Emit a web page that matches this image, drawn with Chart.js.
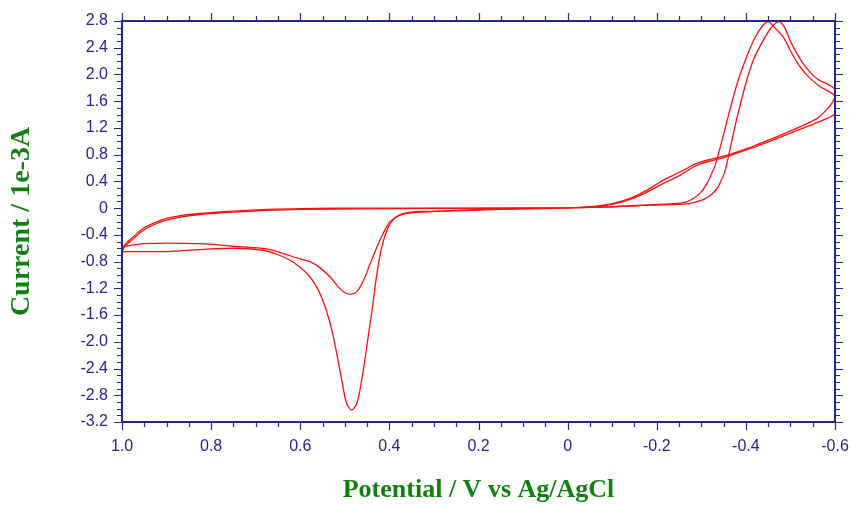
<!DOCTYPE html>
<html>
<head>
<meta charset="utf-8">
<title>Cyclic voltammogram</title>
<script src="https://cdn.jsdelivr.net/npm/chart.js@4/dist/chart.umd.min.js"></script>
<style>
  html, body { margin: 0; padding: 0; background: #fff; }
  #cv { display: block; }
</style>
</head>
<body>
<canvas id="cv" width="852" height="506"></canvas>
<script>
// potential in V vs Ag/AgCl, current in 1e-3 A, listed in sweep order
var cycle1Potential = [
  1.0, 0.99, 0.975, 0.952, 0.922, 0.90, 0.862, 0.825, 0.75, 0.675, 0.60, 0.45, 0.30, 0.15, 0.0,
  -0.10, -0.185, -0.245, -0.265, -0.282, -0.297, -0.312, -0.322, -0.331, -0.346, -0.364, -0.383,
  -0.402, -0.421, -0.439, -0.450, -0.462, -0.484, -0.499, -0.514, -0.537, -0.566, -0.60,
  -0.593, -0.581, -0.559, -0.522, -0.477, -0.432, -0.402, -0.357, -0.327, -0.29, -0.252, -0.215,
  -0.178, -0.14, -0.103, -0.065, -0.028, 0.05, 0.15, 0.25, 0.30, 0.339, 0.376, 0.399, 0.414,
  0.428, 0.443, 0.458, 0.473, 0.488, 0.503, 0.518, 0.533, 0.556, 0.578, 0.60, 0.638, 0.675,
  0.75, 0.83, 0.95, 1.0
];
var cycle1Current = [
  -0.61, -0.52, -0.43, -0.30, -0.205, -0.155, -0.105, -0.08, -0.045, -0.02, -0.006, 0.0, 0.0, 0.0, 0.005,
  0.02, 0.05, 0.07, 0.09, 0.145, 0.22, 0.36, 0.50, 0.64, 1.0, 1.47, 1.92,
  2.27, 2.56, 2.74, 2.79, 2.72, 2.56, 2.37, 2.19, 1.99, 1.82, 1.68,
  1.57, 1.47, 1.34, 1.22, 1.09, 0.97, 0.89, 0.79, 0.74, 0.67, 0.54, 0.42,
  0.27, 0.145, 0.07, 0.03, 0.01, 0.0, -0.012, -0.035, -0.05, -0.065, -0.105, -0.205, -0.38,
  -0.58, -0.83, -1.08, -1.25, -1.29, -1.25, -1.15, -1.03, -0.89, -0.80, -0.76, -0.68, -0.61,
  -0.57, -0.53, -0.53, -0.58
];
var cycle2Potential = [
  1.0, 0.99, 0.975, 0.952, 0.922, 0.90, 0.862, 0.825, 0.75, 0.675, 0.60, 0.45, 0.30, 0.15, 0.0,
  -0.10, -0.185, -0.26, -0.28, -0.305, -0.32, -0.335, -0.345, -0.353, -0.364, -0.379, -0.398,
  -0.417, -0.439, -0.458, -0.475, -0.488, -0.499, -0.514, -0.533, -0.559, -0.60, -0.60,
  -0.574, -0.537, -0.499, -0.462, -0.417, -0.357, -0.29, -0.252, -0.215, -0.178, -0.14, -0.103,
  -0.065, 0.0, 0.10, 0.20, 0.294, 0.354, 0.384, 0.402, 0.417, 0.428, 0.44, 0.451, 0.462, 0.473,
  0.485, 0.496, 0.507, 0.518, 0.529, 0.544, 0.559, 0.578, 0.60, 0.623, 0.653, 0.683, 0.75,
  0.825, 0.90, 1.0
];
var cycle2Current = [
  -0.64, -0.55, -0.46, -0.33, -0.23, -0.18, -0.125, -0.095, -0.06, -0.035, -0.02, -0.01, -0.005, 0.0, 0.005,
  0.02, 0.045, 0.06, 0.08, 0.13, 0.19, 0.29, 0.42, 0.55, 0.87, 1.32, 1.82,
  2.22, 2.51, 2.71, 2.79, 2.69, 2.51, 2.32, 2.12, 1.94, 1.77, 1.42,
  1.32, 1.22, 1.12, 1.02, 0.91, 0.77, 0.64, 0.49, 0.37, 0.24, 0.13, 0.06,
  0.025, 0.0, -0.01, -0.03, -0.05, -0.06, -0.13, -0.28, -0.58, -0.98, -1.58, -2.08, -2.57, -2.92,
  -3.02, -2.92, -2.57, -2.18, -1.83, -1.48, -1.23, -1.03, -0.89, -0.78, -0.69, -0.63, -0.60,
  -0.62, -0.65, -0.65
];

var xTickValues = [1.0, 0.8, 0.6, 0.4, 0.2, 0, -0.2, -0.4, -0.6];
var xTickLabels = ["1.0", "0.8", "0.6", "0.4", "0.2", "0", "-0.2", "-0.4", "-0.6"];
var yTickValues = [2.8, 2.4, 2.0, 1.6, 1.2, 0.8, 0.4, 0, -0.4, -0.8, -1.2, -1.6, -2.0, -2.4, -2.8, -3.2];
var yTickLabels = ["2.8", "2.4", "2.0", "1.6", "1.2", "0.8", "0.4", "0", "-0.4", "-0.8", "-1.2", "-1.6", "-2.0", "-2.4", "-2.8", "-3.2"];

var axisColor = "#25258f";
var titleColor = "#118011";
var traceColor = "#ff1010";

function toPoints(xs, ys) {
  return xs.map(function (v, i) { return { x: v, y: ys[i] }; });
}

// frame and tick marks on all four sides, major and minor
var frameTicks = {
  id: "frameTicks",
  afterDatasetsDraw: function (chart) {
    var ctx = chart.ctx;
    var a = chart.chartArea;
    var x = chart.scales.x;
    var y = chart.scales.y;
    ctx.save();
    ctx.strokeStyle = axisColor;
    ctx.lineWidth = 1.2;
    ctx.beginPath();
    for (var i = 0; i <= 32; i++) {
      var px = Math.round(x.getPixelForValue(-0.6 + i * 0.05)) + 0.5;
      var len = i % 4 === 0 ? 8 : 5;
      ctx.moveTo(px, a.bottom); ctx.lineTo(px, a.bottom + len);
      ctx.moveTo(px, a.top); ctx.lineTo(px, a.top - len);
    }
    for (var j = 0; j <= 60; j++) {
      var py = Math.round(y.getPixelForValue(-3.2 + j * 0.1)) + 0.5;
      var l2 = j % 4 === 0 ? 8 : 5;
      ctx.moveTo(a.left, py); ctx.lineTo(a.left - l2, py);
      ctx.moveTo(a.right, py); ctx.lineTo(a.right + l2, py);
    }
    ctx.stroke();
    ctx.lineWidth = 2;
    ctx.strokeRect(a.left, a.top, a.right - a.left, a.bottom - a.top);
    ctx.restore();
  }
};

var ctx = document.getElementById("cv").getContext("2d");
var chart = new Chart(ctx, {
  type: "scatter",
  data: {
    datasets: [
      {
        label: "Cycle 1",
        data: toPoints(cycle1Potential, cycle1Current),
        showLine: true,
        borderColor: traceColor,
        borderWidth: 1.3,
        pointRadius: 0,
        tension: 0.3,
        fill: false
      },
      {
        label: "Cycle 2",
        data: toPoints(cycle2Potential, cycle2Current),
        showLine: true,
        borderColor: traceColor,
        borderWidth: 1.3,
        pointRadius: 0,
        tension: 0.3,
        fill: false
      }
    ]
  },
  options: {
    responsive: false,
    animation: false,
    layout: { padding: { top: 21, right: 17, left: 0, bottom: 0 } },
    plugins: {
      legend: { display: false },
      tooltip: { enabled: false }
    },
    scales: {
      x: {
        type: "linear",
        reverse: true,
        min: -0.6,
        max: 1.0,
        grid: { display: false, drawTicks: false },
        border: { display: false },
        afterBuildTicks: function (scale) {
          scale.ticks = xTickValues.map(function (v) { return { value: v }; });
        },
        afterFit: function (scale) {
          scale.height = 84;
          scale.paddingLeft = 0;
          scale.paddingRight = 0;
        },
        ticks: {
          padding: 15,
          color: axisColor,
          maxRotation: 0,
          autoSkip: false,
          font: { family: "'Liberation Sans', Arial, sans-serif", size: 16 },
          callback: function (value, index) { return xTickLabels[index]; }
        },
        title: {
          display: true,
          text: "Potential / V vs Ag/AgCl",
          color: titleColor,
          padding: { top: 0, bottom: 0 },
          font: { family: "'Liberation Serif', 'Times New Roman', serif", size: 26, weight: "bold" }
        }
      },
      y: {
        type: "linear",
        min: -3.2,
        max: 2.8,
        grid: { display: false, drawTicks: false },
        border: { display: false },
        afterBuildTicks: function (scale) {
          scale.ticks = yTickValues.map(function (v) { return { value: v }; });
        },
        afterFit: function (scale) {
          scale.width = 122;
          scale.paddingTop = 0;
          scale.paddingBottom = 0;
        },
        ticks: {
          padding: 14,
          color: axisColor,
          autoSkip: false,
          font: { family: "'Liberation Sans', Arial, sans-serif", size: 16 },
          callback: function (value, index) { return yTickLabels[index]; }
        },
        title: {
          display: true,
          text: "Current / 1e-3A",
          color: titleColor,
          padding: { top: 5, bottom: 0 },
          font: { family: "'Liberation Serif', 'Times New Roman', serif", size: 28, weight: "bold" }
        }
      }
    }
  },
  plugins: [frameTicks]
});
</script>
</body>
</html>
